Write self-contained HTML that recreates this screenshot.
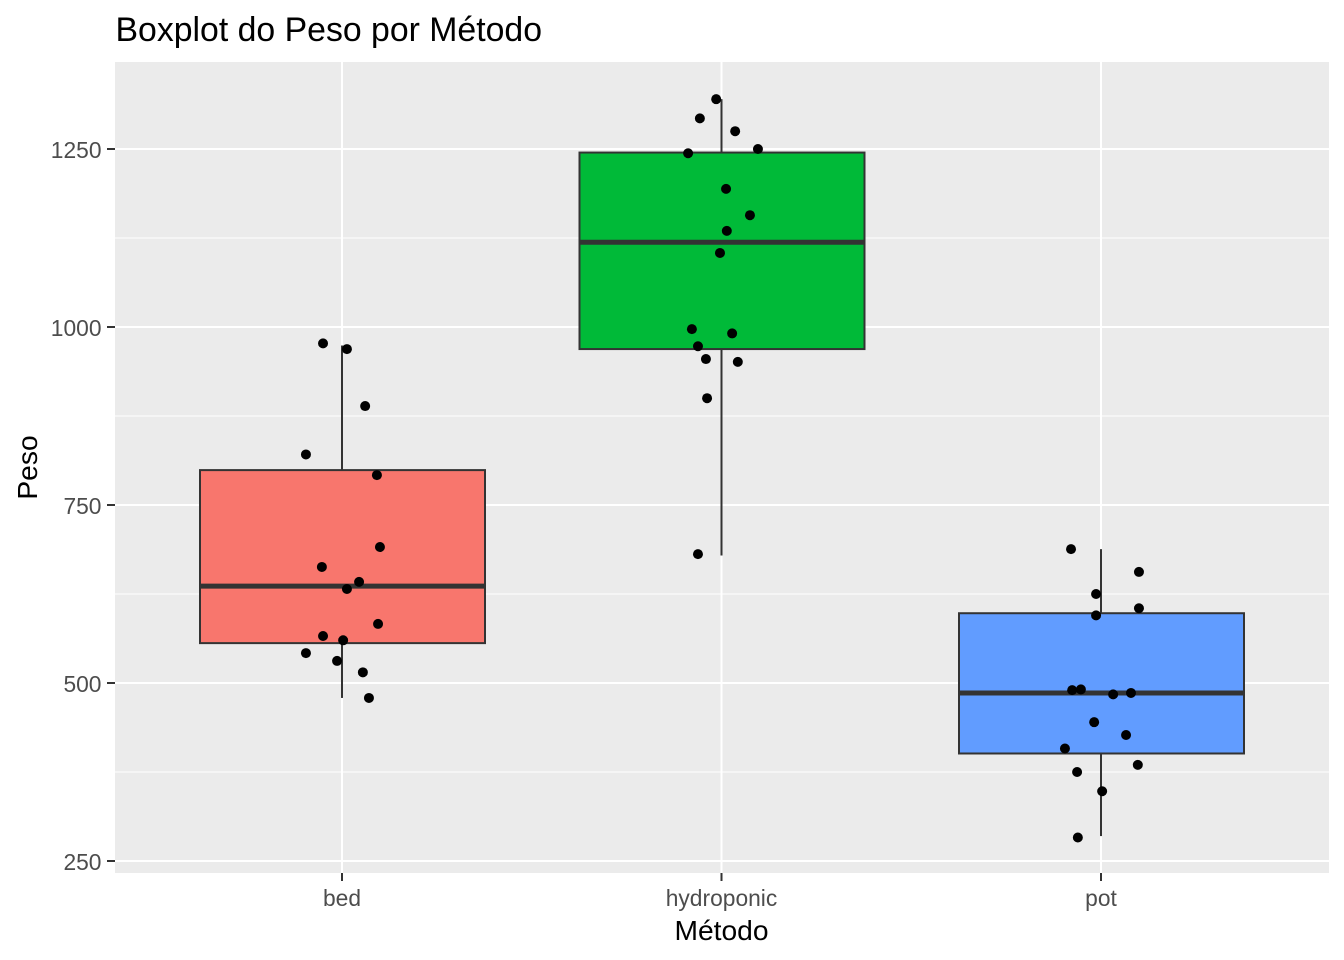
<!DOCTYPE html>
<html lang="pt">
<head>
<meta charset="utf-8">
<title>Boxplot do Peso por Método</title>
<style>
html,body{margin:0;padding:0;background:#fff;}
svg{display:block;}
text{font-family:"Liberation Sans",Arial,sans-serif;}
</style>
</head>
<body>
<svg id="chart" xmlns="http://www.w3.org/2000/svg" width="1344" height="960" viewBox="0 0 1344 960">
  <rect x="0" y="0" width="1344" height="960" fill="#ffffff"/>
  <rect x="115" y="62" width="1214" height="811" fill="#EBEBEB"/>
  <g id="grid"></g>
  <g id="marks"></g>
  <g id="points"></g>
  <g id="axes"></g>
  <text x="115.5" y="41" font-size="33.8" fill="#000000">Boxplot do Peso por Método</text>
  <text x="721.5" y="940" font-size="28.2" fill="#000000" text-anchor="middle">Método</text>
  <text transform="translate(37 467.5) rotate(-90)" font-size="28.2" fill="#000000" text-anchor="middle">Peso</text>
</svg>
<script>
const categories = ['bed', 'hydroponic', 'pot'];
const fills = ['#F8766D', '#00BA38', '#619CFF'];
const yTicks = [250, 500, 750, 1000, 1250];
const yMinorTicks = [375, 625, 875, 1125];

const q1Values = [556, 969, 401];
const medianValues = [636, 1119, 486];
const q3Values = [799, 1245, 598];
const whiskerLow = [479, 679, 285];
const whiskerHigh = [974, 1320, 688];

const bedWeights = [977, 969, 889, 821, 792, 691, 663, 642, 632, 583, 566, 560, 542, 531, 515, 479];
const bedJitter = [-0.050, 0.013, 0.061, -0.095, 0.092, 0.100, -0.053, 0.045, 0.013, 0.095, -0.050, 0.003, -0.095, -0.013, 0.055, 0.071];
const hydroponicWeights = [1320, 1293, 1275, 1250, 1244, 1194, 1157, 1135, 1104, 997, 991, 973, 955, 951, 900, 681];
const hydroponicJitter = [-0.014, -0.057, 0.036, 0.096, -0.088, 0.012, 0.075, 0.014, -0.004, -0.078, 0.028, -0.062, -0.041, 0.043, -0.038, -0.062];
const potWeights = [688, 656, 625, 605, 595, 490, 491, 484, 486, 445, 427, 408, 385, 375, 348, 283];
const potJitter = [-0.079, 0.100, -0.013, 0.100, -0.013, -0.076, -0.053, 0.032, 0.079, -0.018, 0.066, -0.095, 0.097, -0.063, 0.003, -0.061];

const pointWeights = [bedWeights, hydroponicWeights, potWeights];
const pointJitter = [bedJitter, hydroponicJitter, potJitter];

const NS = 'http://www.w3.org/2000/svg';
const PANEL = {left: 115, right: 1329, top: 62, bottom: 873};

function yScale(v) { return 861 - (v - 250) * 0.712; }
function xScale(pos) { return 342 + pos * 379.5; }

function make(parent, tag, attrs) {
  const el = document.createElementNS(NS, tag);
  for (const k in attrs) el.setAttribute(k, attrs[k]);
  parent.appendChild(el);
  return el;
}

const grid = document.getElementById('grid');
const marks = document.getElementById('marks');
const pts = document.getElementById('points');
const axes = document.getElementById('axes');

yMinorTicks.forEach(function (v) {
  const l = make(grid, 'line', {x1: PANEL.left, x2: PANEL.right, y1: yScale(v), y2: yScale(v), stroke: '#ffffff', 'stroke-width': 1});
  
  
});
yTicks.forEach(function (v) {
  const l = make(grid, 'line', {x1: PANEL.left, x2: PANEL.right, y1: yScale(v), y2: yScale(v), stroke: '#ffffff', 'stroke-width': 2});
  
  

  const t = make(axes, 'line', {x1: 107, x2: PANEL.left, y1: yScale(v), y2: yScale(v), stroke: '#333333', 'stroke-width': 2});
  
  

  const lab = make(axes, 'text', {x: 101.5, y: yScale(v) + 9, 'font-size': 22.8, fill: '#4D4D4D', 'text-anchor': 'end'});
  lab.textContent = String(v);
  
  
});

categories.forEach(function (c, i) {
  const cx = xScale(i);

  const g = make(grid, 'line', {x1: cx, x2: cx, y1: PANEL.top, y2: PANEL.bottom, stroke: '#ffffff', 'stroke-width': 2});
  
  

  const t = make(axes, 'line', {x1: cx, x2: cx, y1: PANEL.bottom, y2: 881, stroke: '#333333', 'stroke-width': 2});
  
  

  const lab = make(axes, 'text', {x: cx, y: 906, 'font-size': 22.8, fill: '#4D4D4D', 'text-anchor': 'middle'});
  lab.textContent = c;
  
  

  const wu = make(marks, 'line', {x1: cx, x2: cx, y1: yScale(q3Values[i]), y2: yScale(whiskerHigh[i]), stroke: '#333333', 'stroke-width': 2});
  
  

  const wl = make(marks, 'line', {x1: cx, x2: cx, y1: yScale(q1Values[i]), y2: yScale(whiskerLow[i]), stroke: '#333333', 'stroke-width': 2});
  
  

  const halfWidth = 142.5;
  const box = make(marks, 'rect', {
    x: cx - halfWidth + 0.5,
    y: yScale(q3Values[i]),
    width: halfWidth * 2,
    height: yScale(q1Values[i]) - yScale(q3Values[i]),
    fill: fills[i],
    stroke: '#333333',
    'stroke-width': 2
  });
  
  

  const med = make(marks, 'line', {x1: cx - halfWidth + 0.5, x2: cx + halfWidth + 0.5, y1: yScale(medianValues[i]), y2: yScale(medianValues[i]), stroke: '#333333', 'stroke-width': 5});
  
  

  pointWeights[i].forEach(function (w, k) {
    const p = make(pts, 'circle', {cx: xScale(i + pointJitter[i][k]), cy: yScale(w), r: 5, fill: '#000000'});
    
    
  });
});
</script>
</body>
</html>
